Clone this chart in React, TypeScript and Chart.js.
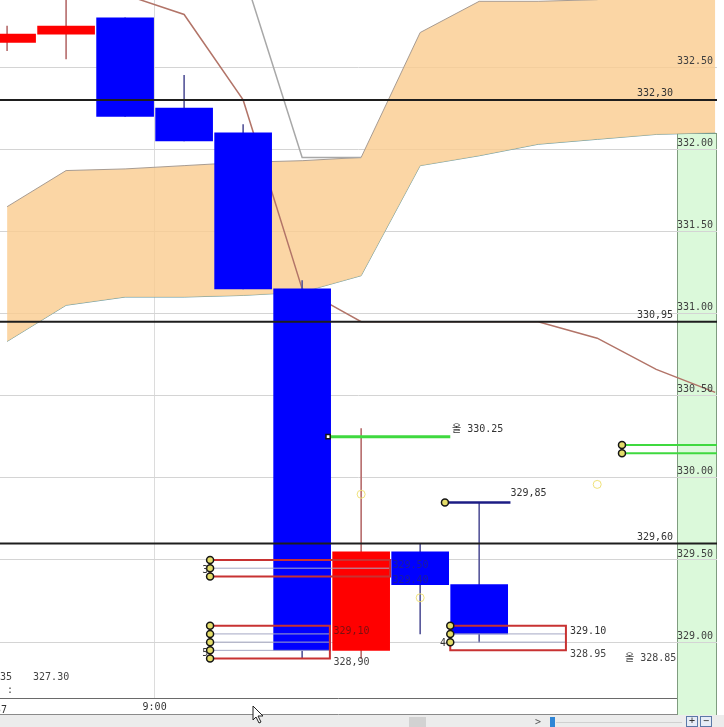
import React, { useEffect, useRef } from "react";
import { Chart, registerables } from "chart.js";

Chart.register(...registerables);

// ---------------- data ----------------
const candleIndex = [0, 1, 2, 3, 4, 5, 6, 7, 8];
const bodyHigh = [332.70, 332.75, 332.80, 332.25, 332.10, 331.15, 329.55, 329.55, 329.35];
const bodyLow = [332.65, 332.70, 332.20, 332.05, 331.15, 328.95, 328.95, 329.35, 329.05];
const wickHigh = [332.75, 333.00, 332.80, 332.45, 332.15, 331.20, 330.30, 329.60, 329.85];
const wickLow = [332.60, 332.55, 332.20, 332.05, 331.15, 328.90, 328.90, 329.05, 329.00];
const candleRising = [true, true, false, false, false, false, true, false, false];

const cloudIndex = [0, 1, 2, 3, 4, 5, 6, 7, 8, 9, 10, 11, 12];
const spanUpper = [331.65, 331.87, 331.88, 331.90, 331.92, 331.93, 331.95, 332.71, 332.90, 332.90, 332.91, 333.05, 333.10];
const spanLower = [330.83, 331.05, 331.10, 331.10, 331.11, 331.13, 331.23, 331.90, 331.96, 332.03, 332.06, 332.09, 332.10];

const avgIndex = [2, 3, 4, 5, 6, 7, 8, 9, 10, 11, 12];
const avgValues = [332.94, 332.82, 332.30, 331.15, 330.95, 330.95, 330.95, 330.95, 330.85, 330.66, 330.52];

const baseIndex = [4, 5, 6];
const baseValues = [333.08, 331.95, 331.95];

const priceLines = [332.30, 330.95, 329.60];
const priceLineLabels = ["332,30", "330,95", "329,60"];

const timeTickIndex = [2.5];
const timeTickLabels = ["9:00"];

const segStart = [5.44, 10.42, 10.42, 7.42];
const segEnd = [7.51, 12.03, 12.03, 8.53];
const segValue = [330.25, 330.20, 330.15, 329.85];
const segKind = ["green", "green2", "green2", "navy"];

const boxLeft = [3.44, 3.44, 7.51];
const boxRight = [6.49, 5.47, 9.47];
const boxTop = [329.50, 329.10, 329.10];
const boxBottom = [329.40, 328.90, 328.95];
const boxInner = [[329.45], [329.05, 329.00, 328.95], [329.05, 329.00]];

const markerX = [10.42, 10.42, 7.42, 3.44, 3.44, 3.44, 3.44, 3.44, 3.44, 3.44, 3.44, 7.51, 7.51, 7.51];
const markerY = [330.20, 330.15, 329.85, 329.50, 329.45, 329.40, 329.10, 329.05, 329.00, 328.95, 328.90, 329.10, 329.05, 329.00];
const squareX = [5.44];
const squareY = [330.25];

const ringX = [6, 7, 10];
const ringY = [329.90, 329.27, 329.96];

const noteText = ["올 330.25", "329,85", "329,10", "328,90", "329.50", "329.40", "329.10", "328.95", "올 328.85", "3", "5", "4", "35", "327.30", ":", "8:57"];
const noteX = [7.54, 8.53, 5.53, 5.53, 6.53, 6.53, 9.54, 9.54, 10.47, 3.41, 3.41, 7.44, -0.12, 0.44, 0.0, 0.0];
const noteY = [330.297, 329.907, 329.067, 328.879, 329.469, 329.378, 329.067, 328.927, 328.903, 329.439, 328.933, 328.994, 328.787, 328.787, 328.708, 328.585];
const noteAlign = ["left", "left", "left", "left", "left", "left", "left", "left", "left", "right", "right", "right", "left", "left", "left", "right"];
const noteColor = ["#333", "#333", "#7a1010", "#444", "#1c1c9a", "#1c1c9a", "#333", "#444", "#444", "#333", "#333", "#333", "#444", "#444", "#444", "#333"];

const X_MIN = -0.12;
const X_MAX = 12.03;
const Y_MIN = 328.66;
const Y_MAX = 332.908;

const FONT = '10px "DejaVu Sans Mono", "Noto Sans CJK KR", monospace';

const xy = (xs: number[], ys: number[]) => xs.map((x, i) => ({ x, y: ys[i] }));

const zeroPad = (s: any) => {
  s.paddingTop = 0;
  s.paddingBottom = 0;
  s.paddingLeft = 0;
  s.paddingRight = 0;
};

const decorPlugin = {
  id: "decor",
  beforeDraw(chart: any) {
    const { ctx, width, height, chartArea } = chart;
    ctx.save();
    ctx.fillStyle = "#ffffff";
    ctx.fillRect(0, 0, width, height);
    const colLeft = chartArea.right - 40;
    ctx.fillStyle = "#dbf9da";
    ctx.fillRect(colLeft, 133, 40, 715 - 133);
    ctx.strokeStyle = "#7f9c7f";
    ctx.lineWidth = 1;
    ctx.beginPath();
    ctx.moveTo(colLeft + 0.5, 133);
    ctx.lineTo(colLeft + 0.5, 715);
    ctx.moveTo(colLeft, 133.5);
    ctx.lineTo(chartArea.right, 133.5);
    ctx.moveTo(chartArea.right - 0.5, 133);
    ctx.lineTo(chartArea.right - 0.5, 715);
    ctx.stroke();
    ctx.restore();
  },
  afterDatasetsDraw(chart: any) {
    const { ctx, chartArea, scales } = chart;
    const xs = scales.x;
    const ys = scales.y;
    ctx.save();
    ctx.font = FONT;
    ctx.textBaseline = "middle";
    ctx.textAlign = "right";
    ctx.fillStyle = "#333";
    priceLines.forEach((v, i) => {
      ctx.fillText(priceLineLabels[i], chartArea.right - 44, ys.getPixelForValue(v) - 6);
    });
    noteText.forEach((t, i) => {
      ctx.textAlign = noteAlign[i];
      ctx.fillStyle = noteColor[i];
      ctx.fillText(t, xs.getPixelForValue(noteX[i]), ys.getPixelForValue(noteY[i]));
    });
    ctx.restore();
  },
  afterDraw(chart: any) {
    const { ctx, width, chartArea } = chart;
    const colLeft = chartArea.right - 40;
    ctx.save();
    ctx.strokeStyle = "#6a6a6a";
    ctx.lineWidth = 1;
    ctx.beginPath();
    ctx.moveTo(0, chartArea.bottom + 0.5);
    ctx.lineTo(colLeft, chartArea.bottom + 0.5);
    ctx.stroke();
    ctx.strokeStyle = "#8a8a8a";
    ctx.beginPath();
    ctx.moveTo(0, 714.5);
    ctx.lineTo(colLeft, 714.5);
    ctx.stroke();
    ctx.fillStyle = "#ececec";
    ctx.fillRect(0, 715, width, 12);
    ctx.fillStyle = "#d2d2d2";
    ctx.fillRect(409, 717, 17, 10);
    ctx.strokeStyle = "#d0d0d0";
    ctx.beginPath();
    ctx.moveTo(556, 722.5);
    ctx.lineTo(682, 722.5);
    ctx.stroke();
    ctx.fillStyle = "#2f86d6";
    ctx.fillRect(550, 717, 5, 10);
    ctx.fillStyle = "#555";
    ctx.font = FONT;
    ctx.textAlign = "center";
    ctx.textBaseline = "middle";
    ctx.fillText(">", 538, 722);
    [686.5, 700.5].forEach((bx, i) => {
      ctx.fillStyle = "#e6ecf6";
      ctx.fillRect(bx, 716.5, 11, 10);
      ctx.strokeStyle = "#5a78a8";
      ctx.strokeRect(bx, 716.5, 11, 10);
      ctx.fillStyle = "#333";
      ctx.fillText(i === 0 ? "+" : "−", bx + 5.5, 721.5);
    });
    const cx = 253, cy = 706;
    ctx.beginPath();
    ctx.moveTo(cx, cy);
    ctx.lineTo(cx, cy + 14);
    ctx.lineTo(cx + 3, cy + 11);
    ctx.lineTo(cx + 6, cy + 17);
    ctx.lineTo(cx + 8, cy + 16);
    ctx.lineTo(cx + 5, cy + 10);
    ctx.lineTo(cx + 10, cy + 10);
    ctx.closePath();
    ctx.fillStyle = "#ffffff";
    ctx.fill();
    ctx.strokeStyle = "#222";
    ctx.stroke();
    ctx.restore();
  },
};

function buildDatasets(): any[] {
  const ds: any[] = [];
  ds.push({
    type: "line",
    data: xy(cloudIndex, spanUpper),
    borderColor: "#a89c92",
    borderWidth: 1,
    pointRadius: 0,
    fill: "+1",
    backgroundColor: "rgba(250,204,143,0.8)",
    order: 10,
  });
  ds.push({
    type: "line",
    data: xy(cloudIndex, spanLower),
    borderColor: "#6ea0a8",
    borderWidth: 1,
    pointRadius: 0,
    fill: false,
    order: 10,
  });
  ds.push({
    type: "line",
    data: xy(baseIndex, baseValues),
    borderColor: "#a8a8a8",
    borderWidth: 1.5,
    pointRadius: 0,
    order: 9,
  });
  ds.push({
    type: "line",
    data: xy(avgIndex, avgValues),
    borderColor: "#b27468",
    borderWidth: 1.5,
    pointRadius: 0,
    order: 9,
  });
  ds.push({
    type: "bar",
    data: candleIndex.map((x, i) => ({ x, y: [wickLow[i], wickHigh[i]] })),
    backgroundColor: candleIndex.map((i) => (candleRising[i] ? "#b87070" : "#5a5a9c")),
    barThickness: 1,
    grouped: false,
    order: 8,
  });
  ds.push({
    type: "bar",
    data: candleIndex.map((x, i) => ({ x, y: [bodyLow[i], bodyHigh[i]] })),
    backgroundColor: candleIndex.map((i) => (candleRising[i] ? "#ff0000" : "#0000ff")),
    barThickness: 57,
    grouped: false,
    order: 7,
  });
  priceLines.forEach((v) => {
    ds.push({
      type: "line",
      data: [{ x: X_MIN, y: v }, { x: X_MAX, y: v }],
      borderColor: "#1e1e1e",
      borderWidth: 2,
      pointRadius: 0,
      order: 6,
    });
  });
  boxLeft.forEach((l, i) => {
    boxInner[i].forEach((v) => {
      ds.push({
        type: "line",
        data: [{ x: l, y: v }, { x: boxRight[i], y: v }],
        borderColor: "#a4a8c4",
        borderWidth: 1,
        pointRadius: 0,
        order: 5,
      });
    });
    ds.push({
      type: "line",
      data: [
        { x: l, y: boxTop[i] },
        { x: boxRight[i], y: boxTop[i] },
        { x: boxRight[i], y: boxBottom[i] },
        { x: l, y: boxBottom[i] },
        { x: l, y: boxTop[i] },
      ],
      borderColor: "#c83232",
      borderWidth: 2,
      pointRadius: 0,
      order: 4,
    });
  });
  segStart.forEach((s, i) => {
    const kind = segKind[i];
    ds.push({
      type: "line",
      data: [{ x: s, y: segValue[i] }, { x: segEnd[i], y: segValue[i] }],
      borderColor: kind === "navy" ? "#1c1c84" : "#3fd93f",
      borderWidth: kind === "green" ? 3 : kind === "green2" ? 2 : 2.5,
      pointRadius: 0,
      order: 3,
    });
  });
  ds.push({
    type: "line",
    data: xy(ringX, ringY),
    showLine: false,
    pointRadius: 4,
    pointBackgroundColor: "rgba(0,0,0,0)",
    pointBorderColor: "#f0e27a",
    pointBorderWidth: 1,
    order: 2,
  });
  ds.push({
    type: "line",
    data: xy(markerX, markerY),
    showLine: false,
    pointRadius: 3.5,
    pointBackgroundColor: "#e4dd6a",
    pointBorderColor: "#151515",
    pointBorderWidth: 1.5,
    order: 1,
  });
  ds.push({
    type: "line",
    data: xy(squareX, squareY),
    showLine: false,
    pointStyle: "rect",
    pointRadius: 3,
    pointBackgroundColor: "#ffffff",
    pointBorderColor: "#151515",
    pointBorderWidth: 1.5,
    order: 1,
  });
  return ds;
}

export default function App() {
  const ref = useRef<HTMLCanvasElement>(null);
  useEffect(() => {
    document.body.style.margin = "0";
    const canvas = ref.current;
    if (!canvas) return;
    const chart = new Chart(canvas, {
      type: "line",
      data: { datasets: buildDatasets() },
      options: {
        animation: false,
        responsive: false,
        devicePixelRatio: 1,
        events: [],
        layout: { autoPadding: false, padding: { left: 0, right: 7, top: 0, bottom: 12 } },
        plugins: { legend: { display: false }, tooltip: { enabled: false } },
        scales: {
          x: {
            type: "linear",
            min: X_MIN,
            max: X_MAX,
            offset: false,
            grid: { color: "#dcdcdc", drawTicks: false, offset: false },
            border: { display: false },
            afterBuildTicks: (s: any) => {
              s.ticks = timeTickIndex.map((v) => ({ value: v }));
            },
            afterFit: (s: any) => {
              s.height = 17;
              zeroPad(s);
            },
            ticks: {
              autoSkip: false,
              maxRotation: 0,
              padding: 3,
              color: "#333",
              font: { family: '"DejaVu Sans Mono", monospace', size: 10 },
              callback: (_v: any, i: number) => timeTickLabels[i],
            },
          },
          y: {
            type: "linear",
            position: "left",
            min: Y_MIN,
            max: Y_MAX,
            grid: { color: "#d4d4d4", drawTicks: false },
            border: { display: false },
            ticks: { display: false, stepSize: 0.5, includeBounds: false },
            afterFit: (s: any) => {
              s.width = 0;
              zeroPad(s);
            },
          },
          y2: {
            type: "linear",
            position: "right",
            min: Y_MIN,
            max: Y_MAX,
            grid: { display: false, drawTicks: false },
            border: { display: false },
            ticks: {
              z: 2,
              stepSize: 0.5,
              includeBounds: false,
              mirror: true,
              padding: -4,
              labelOffset: -6,
              color: "#404040",
              font: { family: '"DejaVu Sans Mono", monospace', size: 10 },
              callback: (v: any) => Number(v).toFixed(2),
            },
            afterFit: (s: any) => {
              s.width = 0;
              zeroPad(s);
            },
          },
        },
      } as any,
      plugins: [decorPlugin],
    });
    return () => chart.destroy();
  }, []);
  return (
    <div style={{ width: 724, height: 727, position: "relative" }}>
      <canvas ref={ref} width={724} height={727} style={{ display: "block", width: 724, height: 727 }} />
    </div>
  );
}
